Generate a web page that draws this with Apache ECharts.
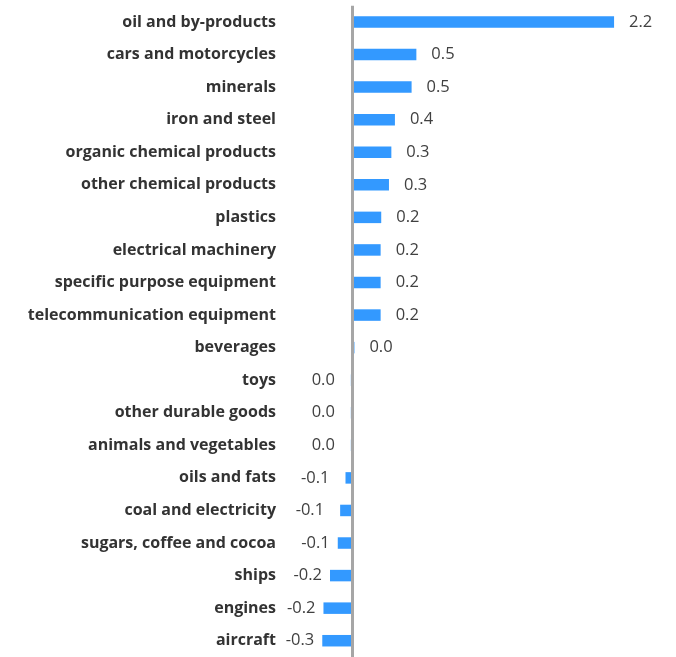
<!DOCTYPE html>
<html><head><meta charset="utf-8">
<script src="https://cdn.jsdelivr.net/npm/echarts@6/dist/echarts.min.js"></script>
<style>html,body{margin:0;padding:0;background:#fff}#c{width:676px;height:657px}</style>
</head><body><div id="c"></div>
<script>
const categories = ["oil and by-products","cars and motorcycles","minerals","iron and steel","organic chemical products","other chemical products","plastics","electrical machinery","specific purpose equipment","telecommunication equipment","beverages","toys","other durable goods","animals and vegetables","oils and fats","coal and electricity","sugars, coffee and cocoa","ships","engines","aircraft"];
const values = [2.2,0.54,0.5,0.36,0.33,0.31,0.245,0.24,0.24,0.24,0.02,-0.01,-0.01,-0.01,-0.055,-0.1,-0.12,-0.185,-0.24,-0.25];

const fmt = v => (Math.abs(v) < 0.05 ? "0.0" : v.toFixed(1));
const labelGap = v => (v >= 0 ? 15 : (v > -0.11 ? 16 : 8));
const chart = echarts.init(document.getElementById('c'));
chart.setOption({
  animation:false,
  grid:{left:292.5,right:26.2,top:5.7,height:652.6,containLabel:false},
  xAxis:{type:'value',min:-0.5,max:2.5,show:false},
  yAxis:{type:'category',data:categories,inverse:true,
    axisLine:{show:false},axisTick:{show:false},
    axisLabel:{margin:16.5,fontFamily:'Open Sans',fontWeight:'bold',fontSize:16,color:'#333333'}},
  series:[{type:'bar',barWidth:11.5,
    itemStyle:{color:'#3399ff'},
    data:values.map(v=>({value:v,label:{show:true,position:v<0?'left':'right',distance:labelGap(v),
      formatter:fmt(v),fontFamily:'Open Sans',fontSize:16.5,color:'#404040'}})),
    markLine:{silent:true,symbol:'none',label:{show:false},
      lineStyle:{color:'#a6a6a6',width:3,type:'solid'},data:[{xAxis:0}]}
  }]
});
</script></body></html>
